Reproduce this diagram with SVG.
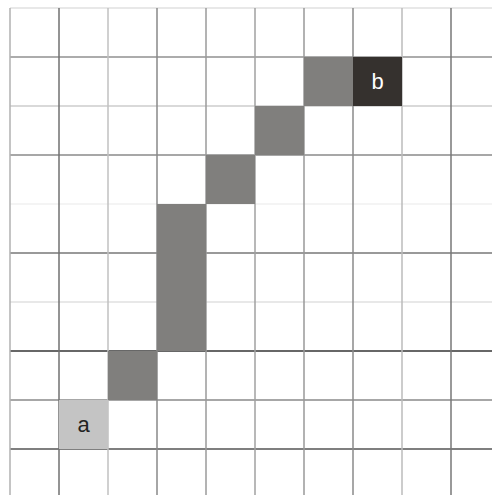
<svg xmlns="http://www.w3.org/2000/svg" width="492" height="495" viewBox="0 0 492 495">
<style>
.g line{stroke-width:1.5}
.c{fill:#807f7d}
.t{font-family:"Liberation Sans",Arial,sans-serif;font-size:22px;text-anchor:middle}
</style>
<rect width="492" height="495" fill="#fff"/>
<g id="grid" class="g">
<line x1="10" y1="8" x2="492" y2="8" stroke="#e0e0e0"/>
<line x1="10" y1="57" x2="492" y2="57" stroke="#909090" stroke-width="2"/>
<line x1="10" y1="106" x2="492" y2="106" stroke="#cccccc"/>
<line x1="10" y1="155" x2="492" y2="155" stroke="#8a8a8a"/>
<line x1="10" y1="204" x2="492" y2="204" stroke="#f0f0f0"/>
<line x1="10" y1="253" x2="492" y2="253" stroke="#777777"/>
<line x1="10" y1="302" x2="492" y2="302" stroke="#e0e0e0" stroke-width="2"/>
<line x1="10" y1="351" x2="492" y2="351" stroke="#353535" stroke-width="2"/>
<line x1="10" y1="400" x2="492" y2="400" stroke="#8a8a8a"/>
<line x1="10" y1="449" x2="492" y2="449" stroke="#555555"/>
<line x1="10" y1="8" x2="10" y2="495" stroke="#b0b0b0" stroke-width="2"/>
<line x1="59" y1="8" x2="59" y2="495" stroke="#707070" stroke-width="2"/>
<line x1="108" y1="8" x2="108" y2="495" stroke="#c0c0c0" stroke-width="2"/>
<line x1="157" y1="8" x2="157" y2="495" stroke="#888888" stroke-width="2"/>
<line x1="206" y1="8" x2="206" y2="495" stroke="#9a9a9a"/>
<line x1="255" y1="8" x2="255" y2="495" stroke="#a0a0a0"/>
<line x1="304" y1="8" x2="304" y2="495" stroke="#999999"/>
<line x1="353" y1="8" x2="353" y2="495" stroke="#8a8a8a"/>
<line x1="402" y1="8" x2="402" y2="495" stroke="#bbbbbb" stroke-width="2"/>
<line x1="451" y1="8" x2="451" y2="495" stroke="#777777" stroke-width="2"/>
</g>
<g id="path-cells">
<rect class="c" x="108" y="351" width="49" height="49"/>
<rect class="c" x="157" y="204" width="49" height="147"/>
<rect class="c" x="206" y="155" width="49" height="49"/>
<rect class="c" x="255" y="106" width="49" height="49"/>
<rect class="c" x="304" y="57" width="49" height="49"/>
</g>
<g id="node-a">
<rect x="59" y="400" width="49" height="49" fill="#c4c4c4"/>
<text class="t" x="83.5" y="432" fill="#222">a</text>
</g>
<g id="node-b">
<rect x="353" y="57" width="49" height="49" fill="#35312e"/>
<text class="t" x="377.5" y="89" fill="#fff">b</text>
</g>
</svg>
